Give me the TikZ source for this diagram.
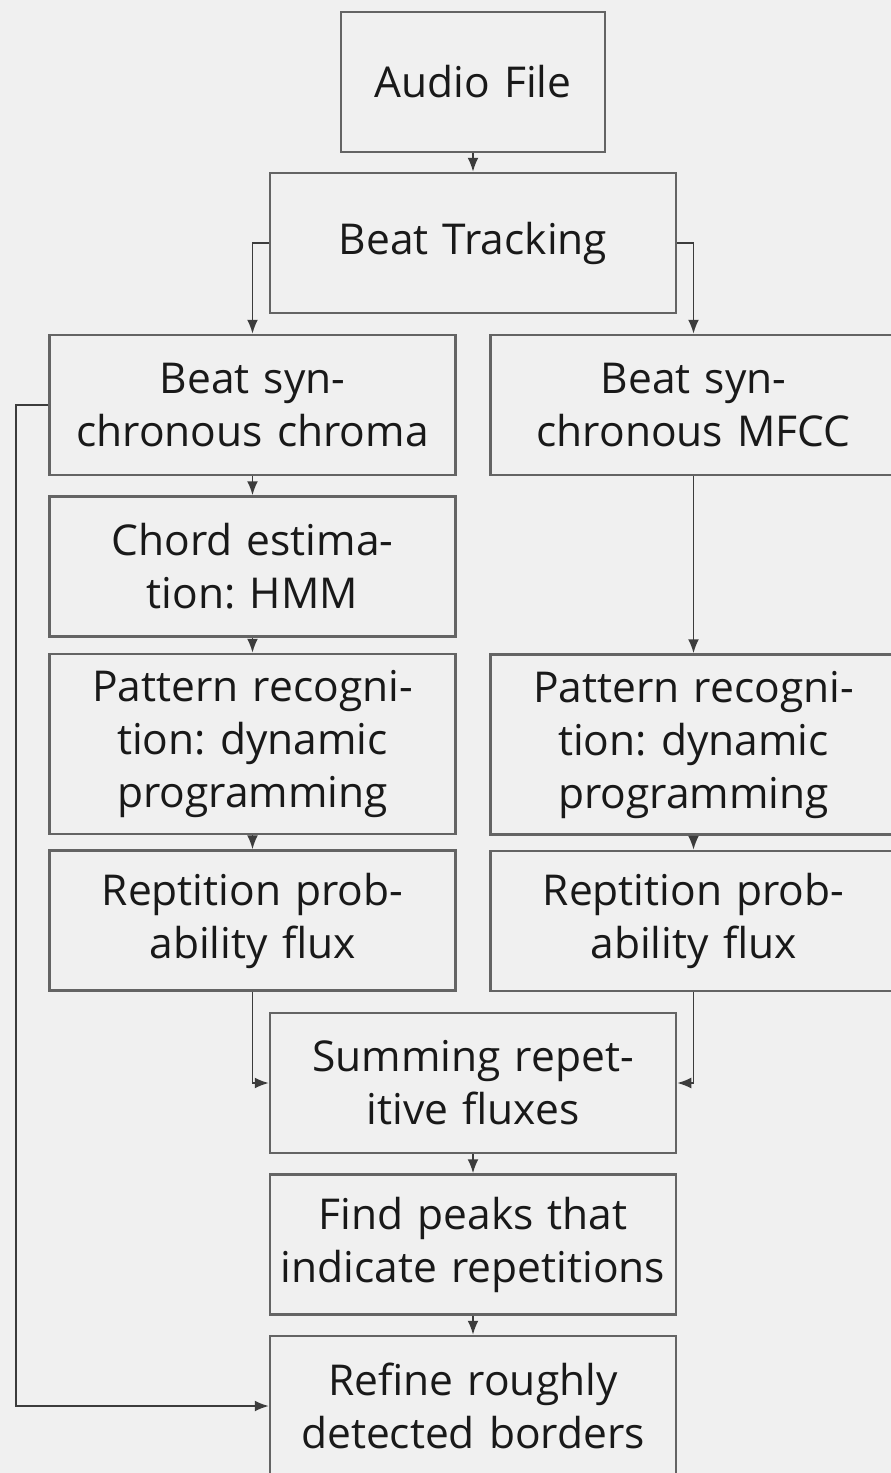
\documentclass[tikz,border=0pt]{standalone}
\usepackage{fontspec}
\setmainfont{Open Sans}
\usepackage{tikz}
\usetikzlibrary{arrows.meta,positioning}
\definecolor{bgcol}{RGB}{240,240,240}
\definecolor{boxcol}{RGB}{100,100,100}
\definecolor{arrcol}{RGB}{60,60,60}
\definecolor{txtcol}{RGB}{25,25,25}

\begin{document}
\frenchspacing
\begin{tikzpicture}[
  x=1pt, y=1pt,
  box/.style={rectangle, draw=boxcol, line width=2.5pt, minimum width=406pt,
              minimum height=140pt, align=center, text width=400pt, text=txtcol,
              font=\fontsize{42.5}{53}\selectfont, inner sep=0pt},
  arr/.style={draw=arrcol, line width=1.8pt, -{Latex[length=14pt,width=11pt]}}
]
  \fill[bgcol] (0,0) rectangle (891,-1473);
  \useasboundingbox (0,0) rectangle (891,-1473);

  \node[box, minimum width=264pt, text width=260pt] (audio) at (473,-82) {Audio File};
  \node[box] (track) at (473,-243) {Beat Tracking};

  \node[box] (chroma) at (252.5,-405) {Beat syn-\\chronous chroma};
  \node[box, below=19pt of chroma] (chord) {Chord estima-\\tion: HMM};
  \node[box, minimum height=180pt, below=15pt of chord] (patl) {Pattern recogni-\\tion: dynamic\\programming};
  \node[box, below=14pt of patl] (repl) {Reptition prob-\\ability flux};

  \node[box] (mfcc) at (693.5,-405) {Beat syn-\\chronous MFCC};
  \node[box, minimum height=180pt, below=177pt of mfcc] (patr) {Pattern recogni-\\tion: dynamic\\programming};
  \node[box, below=14pt of patr] (repr) {Reptition prob-\\ability flux};

  \node[box] (sum) at (473,-1083) {Summing repet-\\itive fluxes};
  \node[box, below=19pt of sum] (peaks) {Find peaks that\\indicate repetitions};
  \node[box, below=19pt of peaks] (refine) {Refine roughly\\detected borders};

  \coordinate (back) at (16,-405);

  \draw[arr] (audio) -- (track);
  \draw[arr] (track.west) -| (chroma.north);
  \draw[arr] (track.east) -| (mfcc.north);
  \draw[arr] (chroma) -- (chord);
  \draw[arr] (chord) -- (patl);
  \draw[arr] (patl) -- (repl);
  \draw[arr] (mfcc) -- (patr);
  \draw[arr] (patr) -- (repr);
  \draw[arr] (repl.south) |- (sum.west);
  \draw[arr] (repr.south) |- (sum.east);
  \draw[arr] (sum) -- (peaks);
  \draw[arr] (peaks) -- (refine);
  \draw[arr] (chroma.west) -- (back) |- (refine.west);
\end{tikzpicture}
\end{document}
